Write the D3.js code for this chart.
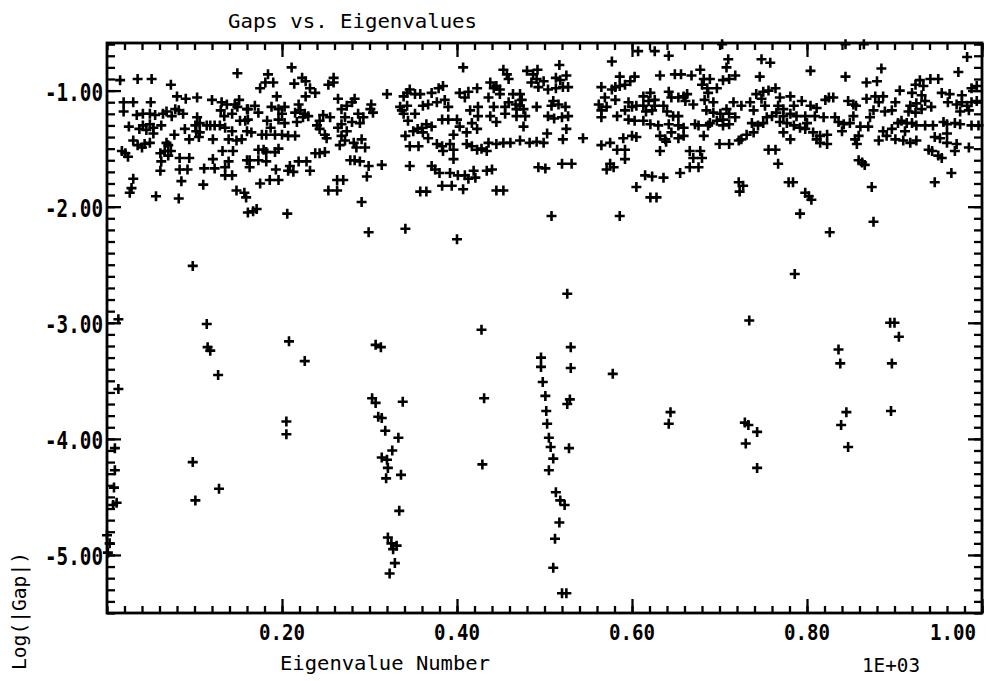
<!DOCTYPE html>
<html><head><meta charset="utf-8">
<script src="https://cdn.jsdelivr.net/npm/d3@7"></script>
<style>html,body{margin:0;padding:0;background:#fff;}svg{display:block;}</style>
</head><body>
<svg id="chart" width="986" height="681"></svg>
<script>
// Eigenvalue number vs log10(|gap|)
const xMajorTicks = [200, 400, 600, 800, 1000];
const yMajorTicks = [-5, -4, -3, -2, -1];
const titleText = "Gaps vs. Eigenvalues";
const xLabel = "Eigenvalue Number";
const yLabel = "Log(|Gap|)";
const xScaleNote = "1E+03";

const segA = [[15,-0.91],[35,-0.90],[51,-0.90],[149,-0.85],[73,-0.95],[80,-1.05],[90,-1.07],[103,-1.06],[120,-1.08],[19,-1.10],[30,-1.10],[50,-1.10],[131,-1.10],[137,-1.12],[146,-1.12],[151,-1.08],[149,-1.14],
[19,-1.18],[34,-1.21],[41,-1.20],[49,-1.20],[55,-1.21],[64,-1.20],[68,-1.18],[74,-1.22],[78,-1.16],[82,-1.17],[87,-1.20],[130,-1.17],[134,-1.22],[143,-1.20],[160,-1.16],[158,-1.26],[152,-1.26],
[25,-1.31],[37,-1.33],[41,-1.30],[45,-1.34],[49,-1.29],[53,-1.32],[62,-1.30],[53,-1.37],[77,-1.38],[89,-1.33],[101,-1.30],[106,-1.28],[114,-1.30],[118,-1.30],[123,-1.30],[129,-1.30],[135,-1.32],[143,-1.35],[103,-1.23],[102,-1.35],[106,-1.36],[160,-1.35],
[30,-1.43],[35,-1.47],[40,-1.49],[43,-1.46],[49,-1.45],[68,-1.45],[70,-1.47],[94,-1.42],[105,-1.40],[121,-1.42],[139,-1.42],[148,-1.43],[154,-1.42],
[17,-1.52],[21,-1.54],[24,-1.57],[61,-1.54],[66,-1.52],[73,-1.52],[70,-1.56],[83,-1.58],[94,-1.58],[121,-1.59],[132,-1.52],[144,-1.52],[160,-1.60],
[62,-1.61],[83,-1.68],[92,-1.68],[111,-1.67],[123,-1.67],[135,-1.66],[139,-1.61],[61,-1.69],[135,-1.73],[143,-1.73],
[30,-1.76],[28,-1.84],[26,-1.88],[85,-1.78],[110,-1.81],[148,-1.86],[157,-1.88],[159,-1.92],[56,-1.91],[82,-1.93],[161,-2.05]];

const segB = [[211,-0.80],[184,-0.86],[223,-0.89],[227,-0.92],[259,-0.89],[259,-0.93],[253,-0.95],[190,-0.93],[181,-0.93],[175,-0.98],[214,-0.94],[232,-0.98],[238,-1.02],[227,-1.05],[194,-1.05],[320,-1.03],
[264,-1.07],[283,-1.07],[280,-1.10],[274,-1.13],[268,-1.16],[302,-1.12],[219,-1.12],[169,-1.13],[161,-1.16],[173,-1.19],[188,-1.14],[196,-1.16],[203,-1.14],[215,-1.19],[221,-1.17],[226,-1.20],[230,-1.22],[224,-1.23],[200,-1.20],
[183,-1.26],[161,-1.25],[196,-1.25],[203,-1.28],[217,-1.27],[247,-1.21],[255,-1.23],[243,-1.26],[240,-1.30],[243,-1.33],[272,-1.23],[287,-1.20],[293,-1.23],[301,-1.16],[304,-1.19],[280,-1.27],[268,-1.29],[264,-1.32],[274,-1.35],[289,-1.28],
[249,-1.38],[251,-1.41],[268,-1.39],[272,-1.43],[266,-1.47],[282,-1.45],[291,-1.42],[285,-1.49],[295,-1.49],[187,-1.32],[177,-1.38],[182,-1.38],[192,-1.38],[200,-1.38],[207,-1.39],[215,-1.39],[165,-1.36],
[173,-1.51],[179,-1.51],[182,-1.53],[192,-1.53],[196,-1.50],[163,-1.60],[173,-1.60],[182,-1.61],[163,-1.66],[193,-1.68],[209,-1.65],[207,-1.69],[213,-1.70],[219,-1.61],[228,-1.61],[232,-1.69],[238,-1.54],[243,-1.54],[249,-1.53],
[278,-1.60],[283,-1.60],[289,-1.61],[299,-1.65],[314,-1.64],[297,-1.74],[175,-1.80],[186,-1.77],[196,-1.77],[263,-1.77],[270,-1.77],[253,-1.86],[263,-1.86],[291,-1.96],[167,-2.04],[171,-2.02],[206,-2.06],[299,-2.22]];

const segC = [[407,-0.80],[453,-0.82],[457,-0.86],[459,-0.90],[480,-0.83],[487,-0.86],[491,-0.90],[485,-0.93],[492,-0.82],[438,-0.93],[445,-0.96],[449,-0.99],[442,-0.98],[384,-0.96],[379,-0.98],[371,-1.02],[346,-0.99],[339,-1.05],[352,-1.03],[358,-1.03],[343,-1.02],
[403,-1.02],[413,-1.01],[423,-0.98],[409,-1.06],[436,-1.06],[449,-1.03],[464,-1.03],[472,-1.03],[474,-1.08],[459,-1.10],[467,-1.12],[472,-1.13],[468,-1.16],[476,-1.16],[455,-1.14],[491,-1.14],
[335,-1.14],[343,-1.13],[361,-1.13],[367,-1.12],[377,-1.10],[386,-1.08],[390,-1.14],[415,-1.17],[424,-1.14],[424,-1.22],[438,-1.22],[442,-1.14],[455,-1.20],[468,-1.22],[478,-1.22],
[337,-1.17],[339,-1.20],[352,-1.20],[344,-1.26],[383,-1.25],[390,-1.25],[400,-1.25],[417,-1.28],[445,-1.27],[476,-1.31],[365,-1.29],[371,-1.31],[360,-1.32],[350,-1.35],[355,-1.33],[361,-1.36],[367,-1.41],[341,-1.39],[403,-1.31],[411,-1.36],[423,-1.33],[396,-1.38],
[346,-1.48],[356,-1.48],[377,-1.46],[383,-1.48],[384,-1.52],[392,-1.46],[396,-1.51],[411,-1.46],[417,-1.48],[423,-1.51],[428,-1.50],[434,-1.52],[436,-1.45],[445,-1.46],[453,-1.45],[461,-1.45],[472,-1.43],[483,-1.45],[491,-1.44],
[396,-1.59],[346,-1.65],[371,-1.65],[375,-1.68],[380,-1.71],[392,-1.71],[401,-1.73],[409,-1.73],[413,-1.76],[421,-1.75],[419,-1.69],[434,-1.69],[440,-1.68],[383,-1.82],[394,-1.82],[407,-1.85],[358,-1.87],[365,-1.87],[445,-1.86],[453,-1.86],[341,-2.19],[493,-1.66],[400,-2.28]];

const segD = [[607,-0.66],[626,-0.66],[642,-0.70],[577,-0.75],[517,-0.78],[525,-0.87],[513,-0.89],[518,-0.91],[499,-0.92],[504,-0.99],[513,-0.98],[521,-0.97],[527,-0.97],[493,-0.97],
[586,-0.88],[603,-0.88],[598,-0.92],[592,-0.95],[586,-0.96],[581,-0.97],[577,-0.99],[565,-0.97],[632,-0.87],[649,-0.86],[656,-0.86],
[613,-1.05],[621,-1.02],[619,-1.09],[626,-1.08],[642,-1.01],[645,-1.06],[653,-1.06],[659,-1.05],[569,-1.06],[581,-1.08],[562,-1.12],[571,-1.14],[565,-1.17],[596,-1.10],[600,-1.14],[592,-1.17],[605,-1.13],[613,-1.13],[626,-1.13],[636,-1.13],[623,-1.17],[616,-1.18],[640,-1.18],[647,-1.22],[653,-1.22],
[510,-1.09],[508,-1.13],[516,-1.12],[524,-1.14],[504,-1.22],[511,-1.24],[520,-1.23],[527,-1.22],[565,-1.23],[583,-1.22],[596,-1.25],[603,-1.26],[613,-1.26],[621,-1.29],[630,-1.30],[642,-1.29],[653,-1.30],
[525,-1.33],[503,-1.37],[521,-1.42],[544,-1.41],[499,-1.45],[590,-1.41],[600,-1.39],[605,-1.40],[565,-1.47],[575,-1.45],[583,-1.51],[592,-1.51],[632,-1.39],[638,-1.42],[645,-1.36],[653,-1.41],[639,-1.44],[632,-1.52],
[592,-1.59],[575,-1.63],[579,-1.66],[571,-1.68],[501,-1.67],[520,-1.63],[531,-1.63],[615,-1.73],[623,-1.74],[636,-1.75],[655,-1.71],[605,-1.83],[621,-1.92],[628,-1.92],[508,-2.08],[586,-2.08]];

const segE = [[703,-0.60],[710,-0.73],[708,-0.80],[748,-0.73],[758,-0.76],[804,-0.83],[678,-0.82],[668,-0.87],[682,-0.90],[689,-0.90],[704,-0.91],[711,-0.90],[718,-0.87],[746,-0.88],[680,-0.95],[686,-0.98],[697,-0.98],[687,-1.02],[663,-1.03],[661,-1.09],[670,-1.12],[683,-1.08],[693,-1.10],
[716,-1.10],[725,-1.13],[735,-1.10],[742,-1.03],[750,-1.01],[756,-1.00],[764,-0.98],[748,-1.07],[752,-1.13],[739,-1.17],[769,-1.06],[781,-1.05],[794,-1.09],[785,-1.13],[767,-1.13],[773,-1.16],[804,-1.13],[811,-1.15],[821,-1.08],[825,-1.06],
[685,-1.17],[693,-1.19],[701,-1.20],[708,-1.16],[711,-1.20],[718,-1.23],[704,-1.25],[697,-1.26],[689,-1.28],[687,-1.30],[676,-1.30],[672,-1.29],[659,-1.32],[659,-1.39],[682,-1.39],[704,-1.30],[711,-1.29],
[737,-1.28],[744,-1.30],[750,-1.28],[754,-1.23],[760,-1.22],[765,-1.19],[773,-1.22],[781,-1.20],[788,-1.22],[798,-1.22],[809,-1.22],[819,-1.23],[769,-1.27],[777,-1.28],[785,-1.30],[792,-1.32],[800,-1.28],[798,-1.33],[773,-1.36],[781,-1.42],[807,-1.36],[815,-1.39],[811,-1.42],[815,-1.45],[823,-1.46],[823,-1.38],
[739,-1.36],[731,-1.38],[725,-1.42],[722,-1.43],[711,-1.46],[700,-1.46],[666,-1.52],[678,-1.52],[670,-1.58],[680,-1.58],[666,-1.66],[676,-1.66],[756,-1.51],[764,-1.51],[767,-1.63],
[722,-1.79],[727,-1.82],[723,-1.87],[779,-1.79],[784,-1.79],[798,-1.88],[802,-1.91],[805,-1.94],[792,-2.06],[826,-2.22]];

const segF = [[844,-0.60],[865,-0.60],[983,-0.71],[885,-0.81],[973,-0.84],[844,-0.88],[868,-0.93],[880,-0.92],[929,-0.91],[941,-0.90],[950,-0.90],[924,-0.95],[933,-0.96],[906,-1.00],[920,-1.02],[931,-1.04],[954,-1.02],[963,-1.03],[977,-1.04],[988,-0.98],[994,-0.96],
[830,-1.06],[847,-1.09],[853,-1.12],[856,-1.13],[868,-1.07],[878,-1.05],[887,-1.05],[882,-1.10],[901,-1.10],[918,-1.13],[925,-1.11],[935,-1.09],[942,-1.14],[931,-1.16],[924,-1.19],[916,-1.18],[961,-1.10],[971,-1.12],[977,-1.10],[983,-1.13],[988,-1.10],[994,-1.09],[985,-1.17],[975,-1.18],
[876,-1.17],[872,-1.23],[889,-1.18],[897,-1.17],[832,-1.23],[836,-1.27],[842,-1.29],[853,-1.22],[849,-1.28],[861,-1.31],[870,-1.31],[840,-1.35],[859,-1.39],[855,-1.42],[857,-1.46],[882,-1.43],[887,-1.35],[891,-1.39],[897,-1.33],
[904,-1.28],[908,-1.26],[914,-1.28],[920,-1.28],[925,-1.30],[935,-1.30],[944,-1.30],[912,-1.35],[901,-1.42],[910,-1.43],[918,-1.45],[925,-1.43],[956,-1.27],[960,-1.29],[969,-1.28],[975,-1.29],[988,-1.30],[996,-1.30],[960,-1.37],[946,-1.40],[952,-1.41],[960,-1.45],[971,-1.46],[969,-1.52],[985,-1.49],
[939,-1.51],[943,-1.52],[950,-1.56],[954,-1.58],[859,-1.60],[863,-1.62],[866,-1.64],[965,-1.71],[946,-1.79],[874,-1.83],[876,-2.13]];

const deepGaps = [[13,-2.97],[13,-3.57],[9,-4.08],[9,-4.27],[8,-4.42],[11,-4.55],[7,-4.57],[0,-4.83],[3,-4.90],[1,-4.98],
[98,-2.51],[98,-4.20],[101,-4.53],[114,-3.01],[115,-3.21],[118,-3.24],[127,-3.45],[128,-4.43],
[208,-3.16],[226,-3.33],[205,-3.85],[205,-3.96],
[307,-3.19],[313,-3.21],[303,-3.65],[307,-3.69],[310,-3.81],[314,-3.82],[318,-3.93],[314,-4.16],[320,-4.18],[321,-4.25],[319,-4.34],[326,-4.10],[333,-3.99],[336,-4.31],[334,-4.62],[338,-3.68],[321,-4.85],[325,-4.90],[327,-4.95],[331,-4.92],[329,-5.07],[323,-5.16],
[428,-3.06],[431,-3.65],[429,-4.22],
[496,-3.30],[496,-3.38],[498,-3.51],[501,-3.63],[502,-3.76],[503,-3.87],[505,-3.99],[507,-4.07],[510,-4.17],[505,-4.27],[513,-4.46],[518,-4.53],[523,-4.57],[517,-4.72],[512,-4.86],[510,-5.11],[520,-5.33],[525,-5.33],
[526,-2.75],[530,-3.21],[530,-3.39],[529,-3.66],[526,-3.70],[528,-4.08],[578,-3.44],[644,-3.77],[642,-3.87],
[734,-2.98],[729,-3.86],[733,-3.88],[730,-4.04],[743,-3.94],[743,-4.25],[786,-2.58],
[836,-3.23],[838,-3.35],[839,-3.88],[845,-3.77],[847,-4.07],[895,-3.00],[900,-3.00],[897,-3.35],[905,-3.12],[896,-3.76]];

const allPoints = [].concat(segA, segB, segC, segD, segE, segF, deepGaps);

const svg = d3.select("#chart");
const L = 107, R = 982, T = 43, B = 613;
const x = d3.scaleLinear().domain([0, 1000]).range([L, R]);
const y = d3.scaleLinear().domain([-5.5, -0.59]).range([B, T]);

const xMinor = d3.range(0, 1001, 20);
const yMinor = d3.range(-55, -5).map(d => d / 10);

function styleAxis(g) {
  g.select(".domain").remove();
  g.selectAll(".tick line").attr("stroke", "#000").attr("stroke-width", 2.3);
  g.selectAll(".tick text").remove();
}
svg.append("g").attr("transform", `translate(0,${B})`).call(d3.axisBottom(x).tickValues(xMinor).tickSize(-7).tickSizeOuter(0)).call(styleAxis);
svg.append("g").attr("transform", `translate(0,${B})`).call(d3.axisBottom(x).tickValues(xMajorTicks).tickSize(-14).tickSizeOuter(0)).call(styleAxis);
svg.append("g").attr("transform", `translate(0,${T})`).call(d3.axisTop(x).tickValues(xMinor).tickSize(-7).tickSizeOuter(0)).call(styleAxis);
svg.append("g").attr("transform", `translate(0,${T})`).call(d3.axisTop(x).tickValues(xMajorTicks).tickSize(-14).tickSizeOuter(0)).call(styleAxis);
svg.append("g").attr("transform", `translate(${L},0)`).call(d3.axisLeft(y).tickValues(yMinor).tickSize(-8).tickSizeOuter(0)).call(styleAxis);
svg.append("g").attr("transform", `translate(${L},0)`).call(d3.axisLeft(y).tickValues(yMajorTicks).tickSize(-14).tickSizeOuter(0)).call(styleAxis);
svg.append("g").attr("transform", `translate(${R},0)`).call(d3.axisRight(y).tickValues(yMinor).tickSize(-8).tickSizeOuter(0)).call(styleAxis);
svg.append("g").attr("transform", `translate(${R},0)`).call(d3.axisRight(y).tickValues(yMajorTicks).tickSize(-14).tickSizeOuter(0)).call(styleAxis);

svg.append("rect").attr("x", L).attr("y", T).attr("width", R - L).attr("height", B - T)
  .attr("fill", "none").attr("stroke", "#000").attr("stroke-width", 2.8);

const mono = "'DejaVu Sans Mono', 'Liberation Mono', monospace";

// x tick labels
svg.append("g").selectAll("text").data(xMajorTicks).join("text")
  .attr("x", d => d === 1000 ? x(d) - 29 : x(d))
  .attr("y", 640)
  .attr("text-anchor", "middle")
  .attr("font-family", mono).attr("font-weight", "bold").attr("font-size", 22)
  .attr("textLength", 46).attr("lengthAdjust", "spacingAndGlyphs")
  .text(d => (d / 1000).toFixed(2));

// y tick labels
svg.append("g").selectAll("text").data(yMajorTicks).join("text")
  .attr("x", 103).attr("y", d => y(d) + 10)
  .attr("text-anchor", "end")
  .attr("font-family", mono).attr("font-weight", "bold").attr("font-size", 24)
  .attr("textLength", 58).attr("lengthAdjust", "spacingAndGlyphs")
  .text(d => d.toFixed(2));

// title & axis titles
svg.append("text").attr("x", 228).attr("y", 28).attr("font-family", mono).attr("font-size", 20)
  .attr("textLength", 249).attr("lengthAdjust", "spacingAndGlyphs").text(titleText);
svg.append("text").attr("x", 280).attr("y", 670).attr("font-family", mono).attr("font-size", 20)
  .attr("textLength", 210).attr("lengthAdjust", "spacingAndGlyphs").text(xLabel);
svg.append("text").attr("x", 862).attr("y", 672).attr("font-family", mono).attr("font-size", 20)
  .attr("textLength", 58).attr("lengthAdjust", "spacingAndGlyphs").text(xScaleNote);
svg.append("text").attr("transform", "translate(26,670) rotate(-90)").attr("font-family", mono).attr("font-size", 20)
  .attr("textLength", 118).attr("lengthAdjust", "spacingAndGlyphs").text(yLabel);

// markers
svg.append("g").selectAll("path").data(allPoints).join("path")
  .attr("transform", d => `translate(${x(d[0])},${y(d[1])})`)
  .attr("d", "M-5,0H5M0,-5V5")
  .attr("stroke", "#000").attr("stroke-width", 2.6).attr("fill", "none");
</script>
</body></html>
